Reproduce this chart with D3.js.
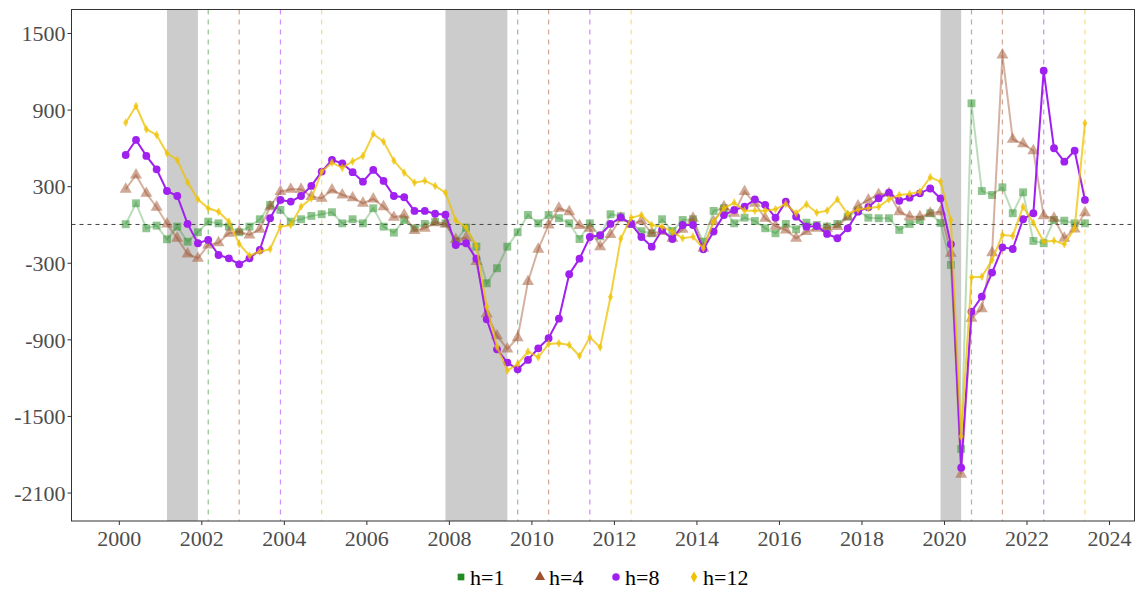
<!DOCTYPE html>
<html><head><meta charset="utf-8">
<script src="https://cdn.jsdelivr.net/npm/d3@7"></script>
<style>body{margin:0;background:#fff}</style>
</head><body>
<svg id="chart" width="1137" height="592"></svg>
<script>
// ---- data (quarterly, first observation 2000Q1, last 2023Q2) ----
const firstYear = 2000;
const h1 = [2,166,-30,-9,-116,-17,-135,-61,22,9,-17,-61,-17,41,153,114,22,41,67,80,96,9,41,9,127,-17,-64,35,-30,4,22,9,-129,-25,-174,-461,-343,-174,-61,74,9,74,49,9,-114,9,-93,80,64,4,-53,-69,41,-51,35,41,-135,106,127,9,53,27,-30,-69,4,-38,14,-4,-17,4,61,110,53,49,49,-43,4,35,88,12,-317,-1759,949,262,231,291,88,252,-129,-147,35,30,9,9];
const h4 = [276,388,244,135,4,-108,-231,-265,-161,-143,-69,-56,-82,-38,139,257,276,276,218,205,270,231,209,166,200,139,56,74,-48,-30,14,4,-118,-104,-291,-700,-873,-975,-887,-448,-194,-4,127,100,-9,-30,-174,-78,49,4,28,-69,-56,-108,-38,49,-186,22,139,88,257,166,49,-12,-43,-108,-56,-30,-30,-17,61,145,192,236,244,100,61,61,88,100,-226,-1957,-735,-660,-221,1328,667,631,578,67,49,-108,-35,92];
const h8 = [544,662,537,432,262,223,4,-147,-121,-239,-265,-312,-265,-200,49,192,179,223,302,414,505,479,410,335,427,341,223,213,106,106,84,76,-161,-147,-268,-743,-978,-1082,-1134,-1061,-970,-891,-738,-390,-268,-98,-84,4,56,4,-98,-174,-43,-114,-4,-4,-194,-56,74,114,139,197,153,53,179,61,-17,-12,-74,-108,-30,100,135,205,249,186,210,244,282,204,-155,-1905,-683,-565,-377,-179,-192,41,88,1205,597,492,578,192];
const h12 = [797,928,746,701,558,505,330,197,127,100,22,-153,-244,-213,-194,-17,-4,139,205,414,484,444,495,537,709,649,500,406,327,343,302,249,32,-24,-170,-644,-957,-1145,-1093,-996,-1040,-936,-931,-944,-1030,-884,-962,-568,-111,52,74,-4,-17,-56,-108,-96,-186,22,127,171,108,108,108,119,161,88,158,92,108,197,82,117,127,139,197,231,239,257,370,335,33,-1662,-414,-409,-278,-82,-90,139,14,-135,-127,-155,-30,793];
const seriesNames = ["h=1","h=4","h=8","h=12"];
const horizons = [1,4,8,12];
// recession spans (decimal years)
const recStart = [2001.167, 2007.917, 2019.917];
const recEnd   = [2001.917, 2009.417, 2020.417];
const xTicks = [2000,2002,2004,2006,2008,2010,2012,2014,2016,2018,2020,2022,2024];
const yTicks = [-2100,-1500,-900,-300,300,900,1500];

// ---- styles ----
const colors = ["#228B22","#A0522D","#A020F0","#EEC200"];
const lineAlpha = [0.3,0.45,1,0.75];
const ptAlpha = [0.5,0.5,1,0.75];
const shapes = [d3.symbolSquare, d3.symbolTriangle, d3.symbolCircle, d3.symbolDiamond];
const shapeSize = [62,62,48,22];

const svg = d3.select("#chart");
const L = 71.5, R = 1134.5, T = 9.5, B = 521;
const x = d3.scaleLinear().domain([1998.853, 2024.618]).range([L, R]);
const y = d3.scaleLinear().domain([-2323, 1684]).range([B, T]);

// quarter dates: last month of each quarter
const dates = h1.map((_, i) => firstYear + Math.floor(i/4) + (3*(i%4)+2)/12);

svg.append("rect").attr("width",1137).attr("height",592).attr("fill","#fff");

// recession shading
svg.append("g").selectAll("rect").data(recStart).join("rect")
  .attr("x", (d) => x(d)).attr("width", (d,i) => x(recEnd[i]) - x(d))
  .attr("y", T).attr("height", B - T).attr("fill", "#CCCCCC");

// zero line
svg.append("line").attr("x1", L).attr("x2", R).attr("y1", y(0)).attr("y2", y(0))
  .attr("stroke", "#444").attr("stroke-width", 1).attr("stroke-dasharray", "4,4");

// vertical dashed lines: recession end + h quarters
const vl = svg.append("g");
recEnd.forEach(e => {
  horizons.forEach((h, j) => {
    const xv = x(e + h/4);
    vl.append("line").attr("x1", xv).attr("x2", xv).attr("y1", T).attr("y2", B)
      .attr("stroke", colors[j]).attr("stroke-opacity", 0.5)
      .attr("stroke-width", 1.2).attr("stroke-dasharray", "5,5");
  });
});

// series
const allSeries = [h1, h4, h8, h12];
const line = d3.line().x((d,i) => x(dates[i])).y(d => y(d));
allSeries.forEach((s, j) => {
  const g = svg.append("g");
  g.append("path").datum(s).attr("d", line).attr("fill", "none")
    .attr("stroke", colors[j]).attr("stroke-opacity", lineAlpha[j]).attr("stroke-width", 2);
  g.selectAll("path.pt").data(s).join("path").attr("class","pt")
    .attr("d", d3.symbol().type(shapes[j]).size(shapeSize[j]))
    .attr("transform", (d,i) => `translate(${x(dates[i])},${y(d)})`)
    .attr("fill", colors[j]).attr("fill-opacity", ptAlpha[j]);
});

// panel border
svg.append("rect").attr("x", L).attr("y", T).attr("width", R - L).attr("height", B - T)
  .attr("fill", "none").attr("stroke", "#333").attr("stroke-width", 1);

// axes
const font = "'Liberation Serif', 'Times New Roman', serif";
const xa = svg.append("g").attr("transform", `translate(0,${B})`)
  .call(d3.axisBottom(x).tickValues(xTicks).tickFormat(d => String(d)).tickSize(4).tickSizeOuter(0));
const ya = svg.append("g").attr("transform", `translate(${L},0)`)
  .call(d3.axisLeft(y).tickValues(yTicks).tickFormat(d => String(d)).tickSize(4).tickSizeOuter(0));
[xa, ya].forEach(a => {
  a.select(".domain").remove();
  a.selectAll(".tick line").attr("stroke", "#333");
  a.selectAll("text").attr("fill", "#4D4D4D").style("font-family", font).style("font-size", "22px");
});
xa.selectAll("text").attr("dy", "0.95em").attr("y", 4);
ya.selectAll("text").attr("x", -6).attr("dy", "0.35em");

// legend
const legX = [461, 540, 616, 694];
const lg = svg.append("g");
seriesNames.forEach((n, j) => {
  lg.append("path").attr("d", d3.symbol().type(shapes[j]).size(j==3?36:45)())
    .attr("transform", `translate(${legX[j]},577)`).attr("fill", colors[j]);
  lg.append("text").attr("x", legX[j] + 9).attr("y", 577).attr("dy", "0.35em")
    .style("font-family", font).style("font-size", "22px").attr("fill", "#000").text(n);
});
</script>
</body></html>
